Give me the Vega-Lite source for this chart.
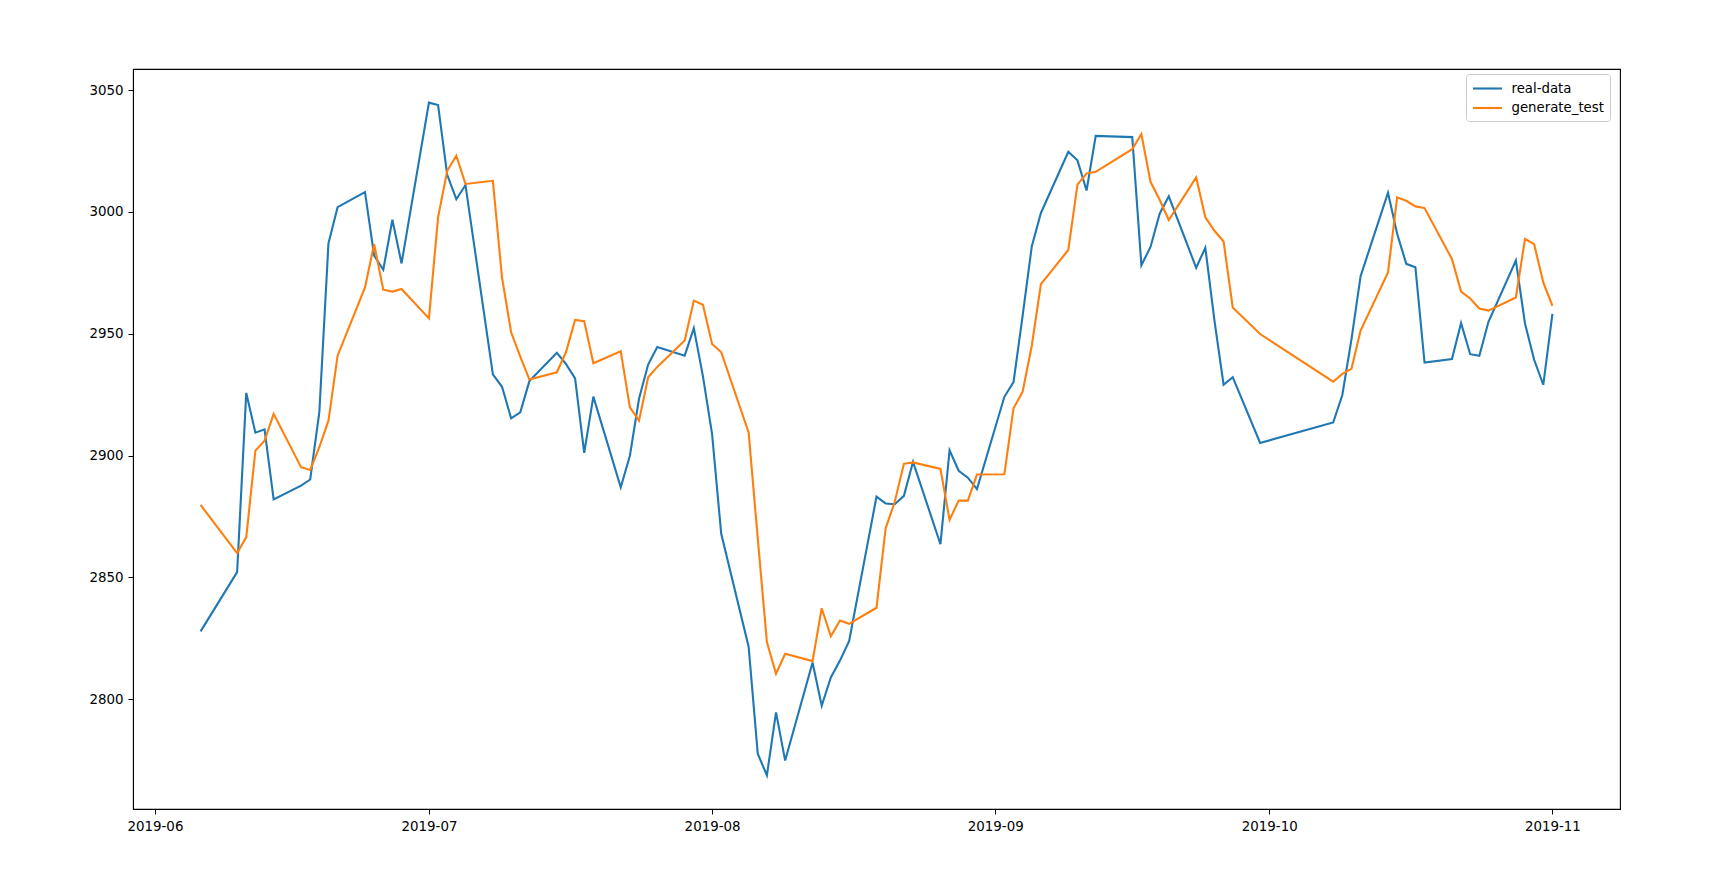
{
  "$schema": "https://vega.github.io/schema/vega-lite/v6.json",
  "width": 1487,
  "height": 740,
  "autosize": {"type": "none"},
  "padding": {"left": 133, "top": 69, "right": 89, "bottom": 76},
  "background": "white",
  "config": {
    "font": "DejaVu Sans",
    "view": {"stroke": "black", "strokeWidth": 1.1},
    "axis": {
      "grid": false,
      "domainColor": "black",
      "tickColor": "black",
      "tickSize": 5,
      "labelColor": "black",
      "labelFontSize": 13.4,
      "labelFont": "DejaVu Sans",
      "labelPadding": 5,
      "title": null
    }
  },
  "datasets": {
    "rows": [
      {"date":"2019-06-06","series":"real-data","value":2827.80},
      {"date":"2019-06-10","series":"real-data","value":2852.13},
      {"date":"2019-06-11","series":"real-data","value":2925.72},
      {"date":"2019-06-12","series":"real-data","value":2909.38},
      {"date":"2019-06-13","series":"real-data","value":2910.74},
      {"date":"2019-06-14","series":"real-data","value":2881.97},
      {"date":"2019-06-17","series":"real-data","value":2887.62},
      {"date":"2019-06-18","series":"real-data","value":2890.16},
      {"date":"2019-06-19","series":"real-data","value":2917.80},
      {"date":"2019-06-20","series":"real-data","value":2987.12},
      {"date":"2019-06-21","series":"real-data","value":3001.98},
      {"date":"2019-06-24","series":"real-data","value":3008.15},
      {"date":"2019-06-25","series":"real-data","value":2982.07},
      {"date":"2019-06-26","series":"real-data","value":2976.28},
      {"date":"2019-06-27","series":"real-data","value":2996.79},
      {"date":"2019-06-28","series":"real-data","value":2978.88},
      {"date":"2019-07-01","series":"real-data","value":3044.90},
      {"date":"2019-07-02","series":"real-data","value":3043.94},
      {"date":"2019-07-03","series":"real-data","value":3015.26},
      {"date":"2019-07-04","series":"real-data","value":3005.25},
      {"date":"2019-07-05","series":"real-data","value":3011.06},
      {"date":"2019-07-08","series":"real-data","value":2933.36},
      {"date":"2019-07-09","series":"real-data","value":2928.23},
      {"date":"2019-07-10","series":"real-data","value":2915.30},
      {"date":"2019-07-11","series":"real-data","value":2917.76},
      {"date":"2019-07-12","series":"real-data","value":2930.55},
      {"date":"2019-07-15","series":"real-data","value":2942.19},
      {"date":"2019-07-16","series":"real-data","value":2937.62},
      {"date":"2019-07-17","series":"real-data","value":2931.69},
      {"date":"2019-07-18","series":"real-data","value":2901.13},
      {"date":"2019-07-19","series":"real-data","value":2924.20},
      {"date":"2019-07-22","series":"real-data","value":2886.97},
      {"date":"2019-07-23","series":"real-data","value":2899.94},
      {"date":"2019-07-24","series":"real-data","value":2923.28},
      {"date":"2019-07-25","series":"real-data","value":2937.36},
      {"date":"2019-07-26","series":"real-data","value":2944.54},
      {"date":"2019-07-29","series":"real-data","value":2941.01},
      {"date":"2019-07-30","series":"real-data","value":2952.34},
      {"date":"2019-07-31","series":"real-data","value":2932.51},
      {"date":"2019-08-01","series":"real-data","value":2908.77},
      {"date":"2019-08-02","series":"real-data","value":2867.84},
      {"date":"2019-08-05","series":"real-data","value":2821.50},
      {"date":"2019-08-06","series":"real-data","value":2777.56},
      {"date":"2019-08-07","series":"real-data","value":2768.68},
      {"date":"2019-08-08","series":"real-data","value":2794.55},
      {"date":"2019-08-09","series":"real-data","value":2774.75},
      {"date":"2019-08-12","series":"real-data","value":2814.99},
      {"date":"2019-08-13","series":"real-data","value":2797.26},
      {"date":"2019-08-14","series":"real-data","value":2808.91},
      {"date":"2019-08-15","series":"real-data","value":2815.80},
      {"date":"2019-08-16","series":"real-data","value":2823.82},
      {"date":"2019-08-19","series":"real-data","value":2883.10},
      {"date":"2019-08-20","series":"real-data","value":2880.33},
      {"date":"2019-08-21","series":"real-data","value":2880.00},
      {"date":"2019-08-22","series":"real-data","value":2883.44},
      {"date":"2019-08-23","series":"real-data","value":2897.43},
      {"date":"2019-08-26","series":"real-data","value":2863.57},
      {"date":"2019-08-27","series":"real-data","value":2902.19},
      {"date":"2019-08-28","series":"real-data","value":2893.76},
      {"date":"2019-08-29","series":"real-data","value":2890.92},
      {"date":"2019-08-30","series":"real-data","value":2886.24},
      {"date":"2019-09-02","series":"real-data","value":2924.11},
      {"date":"2019-09-03","series":"real-data","value":2930.15},
      {"date":"2019-09-04","series":"real-data","value":2957.41},
      {"date":"2019-09-05","series":"real-data","value":2985.86},
      {"date":"2019-09-06","series":"real-data","value":2999.60},
      {"date":"2019-09-09","series":"real-data","value":3024.74},
      {"date":"2019-09-10","series":"real-data","value":3021.20},
      {"date":"2019-09-11","series":"real-data","value":3008.81},
      {"date":"2019-09-12","series":"real-data","value":3031.24},
      {"date":"2019-09-16","series":"real-data","value":3030.75},
      {"date":"2019-09-17","series":"real-data","value":2978.12},
      {"date":"2019-09-18","series":"real-data","value":2985.66},
      {"date":"2019-09-19","series":"real-data","value":2999.28},
      {"date":"2019-09-20","series":"real-data","value":3006.45},
      {"date":"2019-09-23","series":"real-data","value":2977.08},
      {"date":"2019-09-24","series":"real-data","value":2985.34},
      {"date":"2019-09-25","series":"real-data","value":2955.43},
      {"date":"2019-09-26","series":"real-data","value":2929.09},
      {"date":"2019-09-27","series":"real-data","value":2932.17},
      {"date":"2019-09-30","series":"real-data","value":2905.19},
      {"date":"2019-10-08","series":"real-data","value":2913.57},
      {"date":"2019-10-09","series":"real-data","value":2924.86},
      {"date":"2019-10-10","series":"real-data","value":2947.71},
      {"date":"2019-10-11","series":"real-data","value":2973.66},
      {"date":"2019-10-14","series":"real-data","value":3007.88},
      {"date":"2019-10-15","series":"real-data","value":2991.05},
      {"date":"2019-10-16","series":"real-data","value":2978.71},
      {"date":"2019-10-17","series":"real-data","value":2977.33},
      {"date":"2019-10-18","series":"real-data","value":2938.14},
      {"date":"2019-10-21","series":"real-data","value":2939.62},
      {"date":"2019-10-22","series":"real-data","value":2954.38},
      {"date":"2019-10-23","series":"real-data","value":2941.62},
      {"date":"2019-10-24","series":"real-data","value":2940.92},
      {"date":"2019-10-25","series":"real-data","value":2954.93},
      {"date":"2019-10-28","series":"real-data","value":2980.05},
      {"date":"2019-10-29","series":"real-data","value":2954.18},
      {"date":"2019-10-30","series":"real-data","value":2939.32},
      {"date":"2019-10-31","series":"real-data","value":2929.06},
      {"date":"2019-11-01","series":"real-data","value":2958.20},
      {"date":"2019-06-06","series":"generate_test","value":2879.7},
      {"date":"2019-06-10","series":"generate_test","value":2859.9},
      {"date":"2019-06-11","series":"generate_test","value":2866.5},
      {"date":"2019-06-12","series":"generate_test","value":2902.0},
      {"date":"2019-06-13","series":"generate_test","value":2906.1},
      {"date":"2019-06-14","series":"generate_test","value":2917.1},
      {"date":"2019-06-17","series":"generate_test","value":2895.2},
      {"date":"2019-06-18","series":"generate_test","value":2894.1},
      {"date":"2019-06-19","series":"generate_test","value":2903.4},
      {"date":"2019-06-20","series":"generate_test","value":2914.3},
      {"date":"2019-06-21","series":"generate_test","value":2941.0},
      {"date":"2019-06-24","series":"generate_test","value":2969.0},
      {"date":"2019-06-25","series":"generate_test","value":2986.8},
      {"date":"2019-06-26","series":"generate_test","value":2968.1},
      {"date":"2019-06-27","series":"generate_test","value":2967.3},
      {"date":"2019-06-28","series":"generate_test","value":2968.4},
      {"date":"2019-07-01","series":"generate_test","value":2956.3},
      {"date":"2019-07-02","series":"generate_test","value":2997.8},
      {"date":"2019-07-03","series":"generate_test","value":3016.9},
      {"date":"2019-07-04","series":"generate_test","value":3023.1},
      {"date":"2019-07-05","series":"generate_test","value":3011.5},
      {"date":"2019-07-08","series":"generate_test","value":3012.8},
      {"date":"2019-07-09","series":"generate_test","value":2973.1},
      {"date":"2019-07-10","series":"generate_test","value":2950.6},
      {"date":"2019-07-11","series":"generate_test","value":2940.6},
      {"date":"2019-07-12","series":"generate_test","value":2931.2},
      {"date":"2019-07-15","series":"generate_test","value":2934.2},
      {"date":"2019-07-16","series":"generate_test","value":2942.4},
      {"date":"2019-07-17","series":"generate_test","value":2955.7},
      {"date":"2019-07-18","series":"generate_test","value":2955.2},
      {"date":"2019-07-19","series":"generate_test","value":2937.9},
      {"date":"2019-07-22","series":"generate_test","value":2942.8},
      {"date":"2019-07-23","series":"generate_test","value":2919.8},
      {"date":"2019-07-24","series":"generate_test","value":2914.3},
      {"date":"2019-07-25","series":"generate_test","value":2932.1},
      {"date":"2019-07-26","series":"generate_test","value":2936.4},
      {"date":"2019-07-29","series":"generate_test","value":2947.2},
      {"date":"2019-07-30","series":"generate_test","value":2963.6},
      {"date":"2019-07-31","series":"generate_test","value":2961.9},
      {"date":"2019-08-01","series":"generate_test","value":2945.8},
      {"date":"2019-08-02","series":"generate_test","value":2942.4},
      {"date":"2019-08-05","series":"generate_test","value":2909.5},
      {"date":"2019-08-06","series":"generate_test","value":2866.0},
      {"date":"2019-08-07","series":"generate_test","value":2823.4},
      {"date":"2019-08-08","series":"generate_test","value":2810.4},
      {"date":"2019-08-09","series":"generate_test","value":2818.6},
      {"date":"2019-08-12","series":"generate_test","value":2815.6},
      {"date":"2019-08-13","series":"generate_test","value":2837.3},
      {"date":"2019-08-14","series":"generate_test","value":2825.8},
      {"date":"2019-08-15","series":"generate_test","value":2832.3},
      {"date":"2019-08-16","series":"generate_test","value":2830.9},
      {"date":"2019-08-19","series":"generate_test","value":2837.5},
      {"date":"2019-08-20","series":"generate_test","value":2870.1},
      {"date":"2019-08-21","series":"generate_test","value":2881.0},
      {"date":"2019-08-22","series":"generate_test","value":2896.6},
      {"date":"2019-08-23","series":"generate_test","value":2897.2},
      {"date":"2019-08-26","series":"generate_test","value":2894.5},
      {"date":"2019-08-27","series":"generate_test","value":2873.6},
      {"date":"2019-08-28","series":"generate_test","value":2881.5},
      {"date":"2019-08-29","series":"generate_test","value":2881.5},
      {"date":"2019-08-30","series":"generate_test","value":2892.2},
      {"date":"2019-09-02","series":"generate_test","value":2892.3},
      {"date":"2019-09-03","series":"generate_test","value":2919.4},
      {"date":"2019-09-04","series":"generate_test","value":2926.2},
      {"date":"2019-09-05","series":"generate_test","value":2945.1},
      {"date":"2019-09-06","series":"generate_test","value":2970.4},
      {"date":"2019-09-09","series":"generate_test","value":2984.4},
      {"date":"2019-09-10","series":"generate_test","value":3011.2},
      {"date":"2019-09-11","series":"generate_test","value":3015.8},
      {"date":"2019-09-12","series":"generate_test","value":3016.5},
      {"date":"2019-09-16","series":"generate_test","value":3025.8},
      {"date":"2019-09-17","series":"generate_test","value":3032.0},
      {"date":"2019-09-18","series":"generate_test","value":3012.4},
      {"date":"2019-09-19","series":"generate_test","value":3005.0},
      {"date":"2019-09-20","series":"generate_test","value":2996.7},
      {"date":"2019-09-23","series":"generate_test","value":3014.2},
      {"date":"2019-09-24","series":"generate_test","value":2997.8},
      {"date":"2019-09-25","series":"generate_test","value":2992.3},
      {"date":"2019-09-26","series":"generate_test","value":2987.9},
      {"date":"2019-09-27","series":"generate_test","value":2960.8},
      {"date":"2019-09-30","series":"generate_test","value":2949.9},
      {"date":"2019-10-08","series":"generate_test","value":2930.3},
      {"date":"2019-10-09","series":"generate_test","value":2933.5},
      {"date":"2019-10-10","series":"generate_test","value":2935.6},
      {"date":"2019-10-11","series":"generate_test","value":2951.3},
      {"date":"2019-10-14","series":"generate_test","value":2975.2},
      {"date":"2019-10-15","series":"generate_test","value":3006.0},
      {"date":"2019-10-16","series":"generate_test","value":3004.6},
      {"date":"2019-10-17","series":"generate_test","value":3002.3},
      {"date":"2019-10-18","series":"generate_test","value":3001.6},
      {"date":"2019-10-21","series":"generate_test","value":2980.7},
      {"date":"2019-10-22","series":"generate_test","value":2967.3},
      {"date":"2019-10-23","series":"generate_test","value":2964.5},
      {"date":"2019-10-24","series":"generate_test","value":2960.4},
      {"date":"2019-10-25","series":"generate_test","value":2959.5},
      {"date":"2019-10-28","series":"generate_test","value":2964.9},
      {"date":"2019-10-29","series":"generate_test","value":2988.9},
      {"date":"2019-10-30","series":"generate_test","value":2986.8},
      {"date":"2019-10-31","series":"generate_test","value":2971.1},
      {"date":"2019-11-01","series":"generate_test","value":2961.5}
    ]
  },
  "data": {"name": "rows"},
  "mark": {"type": "line", "strokeWidth": 2.1, "clip": true},
  "encoding": {
    "x": {
      "field": "date",
      "type": "temporal",
      "scale": {"type": "utc", "domain": [1559139840000, 1573205760000], "nice": false},
      "axis": {
        "values": [1559347200000, 1561939200000, 1564617600000, 1567296000000, 1569888000000, 1572566400000],
        "format": "%Y-%m",
        "labelPadding": 5,
        "labelFlush": false,
        "labelOverlap": false
      }
    },
    "y": {
      "field": "value",
      "type": "quantitative",
      "scale": {"domain": [2754.87, 3058.71], "nice": false, "zero": false},
      "axis": {"values": [2800, 2850, 2900, 2950, 3000, 3050], "format": "d"}
    },
    "color": {
      "field": "series",
      "type": "nominal",
      "sort": ["real-data", "generate_test"],
      "scale": {"domain": ["real-data", "generate_test"], "range": ["#1f77b4", "#ff7f0e"]},
      "legend": {
        "title": null,
        "orient": "none",
        "legendX": 1333,
        "legendY": 5,
        "symbolType": "M-2,0H2",
        "symbolSize": 210,
        "symbolOffset": 7,
        "symbolStrokeWidth": 2.1,
        "labelFontSize": 13.3,
        "labelFont": "DejaVu Sans",
        "labelColor": "black",
        "labelOffset": 15.5,
        "padding": 6,
        "rowPadding": 4.5,
        "strokeColor": "#cccccc",
        "fillColor": "white",
        "cornerRadius": 3
      }
    }
  }
}
